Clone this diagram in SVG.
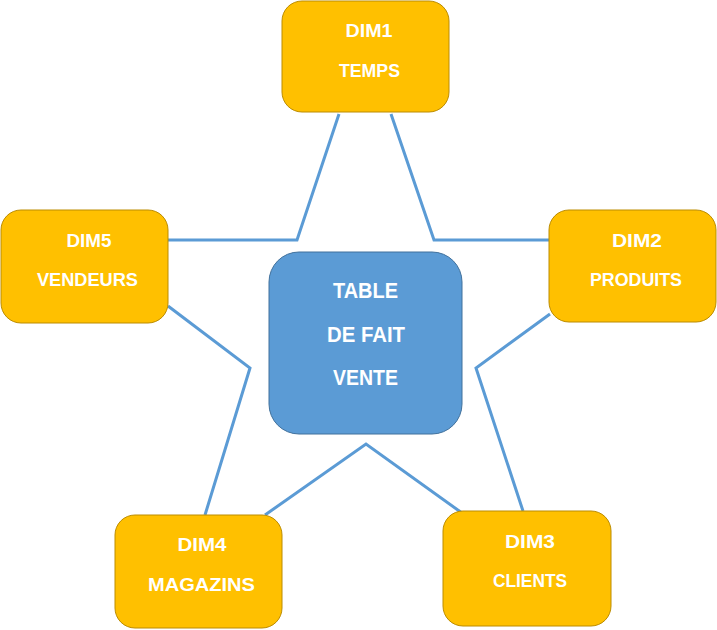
<svg xmlns="http://www.w3.org/2000/svg" width="717" height="630" viewBox="0 0 717 630">
<style>
.dim{fill:#FFC000;stroke:#BC8C00;stroke-width:1}
.fact{fill:#5B9BD5;stroke:#41719C;stroke-width:1}
.t{fill:#FFFFFF;font-family:"Liberation Sans",Arial,sans-serif;font-weight:bold;font-size:18px;text-anchor:middle}
.f{font-size:22px}
.c{fill:none;stroke:#5B9BD5;stroke-width:3;stroke-linejoin:miter}
</style>
<rect width="717" height="630" fill="#FFFFFF"/>
<g id="connectors">
<polyline class="c" points="339,114 297,240 168,240"/>
<polyline class="c" points="391,114 434,240 549,240"/>
<polyline class="c" points="550,314 476,368 523,511"/>
<polyline class="c" points="168,306 250,368 205,515"/>
<polyline class="c" points="265,515 366,444 462,513"/>
</g>
<g id="dim1">
<rect class="dim" x="282" y="1" width="167" height="111" rx="20"/>
<text class="t" x="369" y="37" textLength="47" lengthAdjust="spacingAndGlyphs">DIM1</text>
<text class="t" x="369.5" y="76.5" textLength="61" lengthAdjust="spacingAndGlyphs">TEMPS</text>
</g>
<g id="dim2">
<rect class="dim" x="549" y="210" width="167" height="112" rx="20"/>
<text class="t" x="637" y="247" textLength="50" lengthAdjust="spacingAndGlyphs">DIM2</text>
<text class="t" x="636" y="286" textLength="92" lengthAdjust="spacingAndGlyphs">PRODUITS</text>
</g>
<g id="dim3">
<rect class="dim" x="443" y="511" width="168" height="115" rx="20"/>
<text class="t" x="530" y="548" textLength="50" lengthAdjust="spacingAndGlyphs">DIM3</text>
<text class="t" x="530" y="587" textLength="74" lengthAdjust="spacingAndGlyphs">CLIENTS</text>
</g>
<g id="dim4">
<rect class="dim" x="115" y="515" width="167" height="113" rx="20"/>
<text class="t" x="202" y="551" textLength="49" lengthAdjust="spacingAndGlyphs">DIM4</text>
<text class="t" x="201.5" y="591" textLength="107" lengthAdjust="spacingAndGlyphs">MAGAZINS</text>
</g>
<g id="dim5">
<rect class="dim" x="1" y="210" width="167" height="113" rx="20"/>
<text class="t" x="89" y="247" textLength="45" lengthAdjust="spacingAndGlyphs">DIM5</text>
<text class="t" x="87.5" y="286" textLength="101" lengthAdjust="spacingAndGlyphs">VENDEURS</text>
</g>
<g id="fact">
<rect class="fact" x="269" y="252" width="193" height="182" rx="30"/>
<text class="t f" x="365.5" y="298" textLength="65" lengthAdjust="spacingAndGlyphs">TABLE</text>
<text class="t f" x="366" y="342" textLength="78" lengthAdjust="spacingAndGlyphs">DE FAIT</text>
<text class="t f" x="365.5" y="385" textLength="65" lengthAdjust="spacingAndGlyphs">VENTE</text>
</g>
</svg>
